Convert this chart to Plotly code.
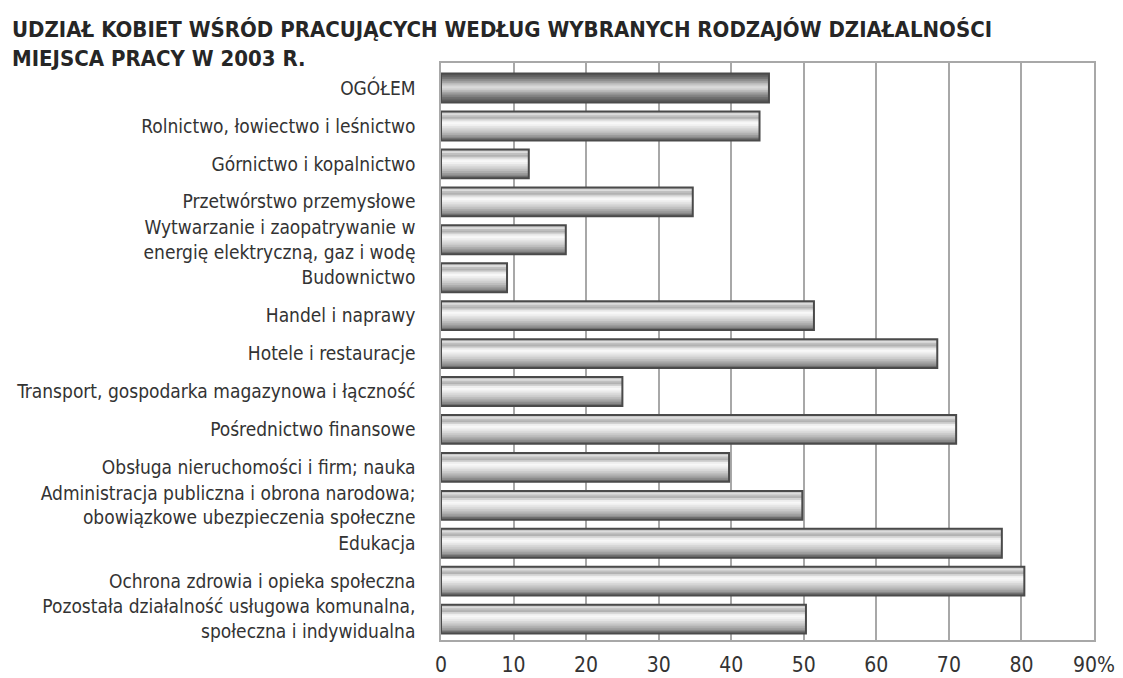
import plotly.graph_objects as go

title_text = "UDZIAŁ KOBIET WŚRÓD PRACUJĄCYCH WEDŁUG WYBRANYCH RODZAJÓW DZIAŁALNOŚCI<br>MIEJSCA PRACY W 2003 R."

categories = [
    "OGÓŁEM",
    "Rolnictwo, łowiectwo i leśnictwo",
    "Górnictwo i kopalnictwo",
    "Przetwórstwo przemysłowe",
    "Wytwarzanie i zaopatrywanie w<br>energię elektryczną, gaz i wodę",
    "Budownictwo",
    "Handel i naprawy",
    "Hotele i restauracje",
    "Transport, gospodarka magazynowa i łączność",
    "Pośrednictwo finansowe",
    "Obsługa nieruchomości i firm; nauka",
    "Administracja publiczna i obrona narodowa;<br>obowiązkowe ubezpieczenia społeczne",
    "Edukacja",
    "Ochrona zdrowia i opieka społeczna",
    "Pozostała działalność usługowa komunalna,<br>społeczna i indywidualna",
]
values = [45.2, 43.9, 12.1, 34.7, 17.2, 9.1, 51.4, 68.4, 25.0, 71.0, 39.7, 49.8, 77.3, 80.4, 50.3]

x_tickvals = [0, 10, 20, 30, 40, 50, 60, 70, 80, 90]
x_ticktext = ["0", "10", "20", "30", "40", "50", "60", "70", "80", "90%"]

# --- style: cylinder shading (top -> bottom grey levels) ---
shade_normal = [195, 220, 192, 178, 210, 238, 248, 240, 228, 216, 204, 190, 174, 156, 136, 112]
shade_dark = [90, 100, 118, 138, 160, 185, 205, 218, 210, 188, 165, 145, 128, 112, 100, 90]

FONT = "Liberation Sans Narrow, Arial Narrow, DejaVu Sans Condensed, sans-serif"
BAR_W = 0.76

idx = list(range(len(categories)))
n = len(shade_normal)
step = BAR_W / n

fig = go.Figure()
for k in range(n):
    cols = []
    for i in idx:
        g = shade_dark[k] if i == 0 else shade_normal[k]
        cols.append(f"rgb({g},{g},{g})")
    w = step * 1.6 if k < n - 1 else step
    fig.add_trace(go.Bar(
        x=values, y=idx, orientation="h",
        width=w, offset=-BAR_W / 2 + k * step,
        marker=dict(color=cols, line=dict(width=0)),
        showlegend=False, hoverinfo="skip",
    ))
# outline
fig.add_trace(go.Bar(
    x=values, y=idx, orientation="h",
    width=BAR_W, offset=-BAR_W / 2,
    marker=dict(color="rgba(0,0,0,0)", line=dict(color="#4a4a4a", width=2)),
    showlegend=False, hovertemplate="%{x}%<extra></extra>",
))

fig.update_layout(
    barmode="overlay",
    width=1123, height=678,
    paper_bgcolor="white", plot_bgcolor="white",
    margin=dict(l=441, r=29, t=63, b=38, autoexpand=False),
    title=dict(
        text=title_text,
        x=12 / 1123, xref="container", xanchor="left",
        y=1 - 37 / 678, yref="container", yanchor="top",
        font=dict(family=FONT, size=22, color="#262626", weight="bold"),
    ),
    xaxis=dict(
        range=[0, 90], tickvals=x_tickvals, ticktext=x_ticktext,
        showgrid=True, gridcolor="#a8a8a8", gridwidth=1.5,
        showline=True, linecolor="#a8a8a8", linewidth=1.5, mirror=True,
        zeroline=False, ticks="", ticklabelstandoff=5,
        tickfont=dict(family=FONT, size=21, color="#333333"),
    ),
    yaxis=dict(
        range=[14.55, -0.66], tickvals=idx, ticktext=categories,
        showgrid=False, zeroline=False,
        showline=True, linecolor="#a8a8a8", linewidth=1.5, mirror=True,
        ticks="", ticklabelstandoff=20,
        tickfont=dict(family=FONT, size=19, color="#333333"),
    ),
)

fig.write_html("out.html", config={"displayModeBar": False},
               post_script="document.body.style.margin='0px';")
